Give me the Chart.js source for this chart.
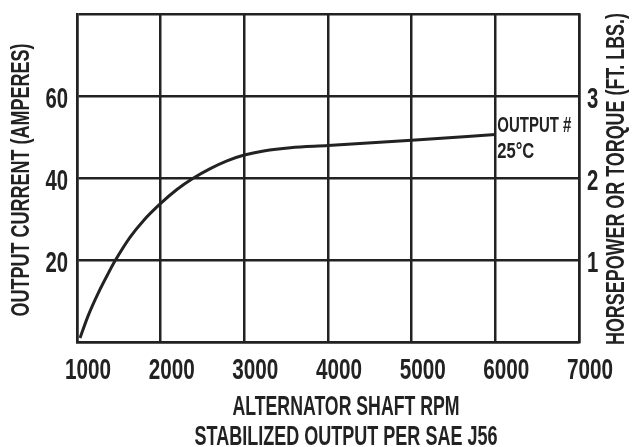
<!DOCTYPE html>
<html>
<head>
<meta charset="utf-8">
<script src="https://cdn.jsdelivr.net/npm/chart.js@4.4.1/dist/chart.umd.min.js"></script>
<style>
  html, body { margin: 0; padding: 0; background: #fff; overflow: hidden; }
  #wrap { position: relative; width: 632px; height: 447px; }
</style>
</head>
<body>
<div id="wrap"><canvas id="chart"></canvas></div>
<script>
// Courbe de sortie de l'alternateur
var rpm  = [1036, 1135, 1255, 1375, 1455, 1635, 1794, 2000, 2194, 2393, 2593, 2793, 3000, 3231, 3551, 4000, 5000, 6000];
var amps = [1.0, 6.5, 12.0, 16.8, 19.8, 25.6, 29.6, 33.8, 37.2, 40.0, 42.3, 44.2, 45.6, 46.6, 47.4, 47.9, 49.2, 50.6];

var rpmTicks = [1000, 2000, 3000, 4000, 5000, 6000, 7000];
var ampTicks = [20, 40, 60];
var hpTicks  = [1, 2, 3];

var curveLabel  = ['OUTPUT #', '25°C'];
var leftTitle   = 'OUTPUT CURRENT (AMPERES)';
var rightTitle  = 'HORSEPOWER OR TORQUE (FT. LBS.)';
var bottomTitle = ['ALTERNATOR SHAFT RPM', 'STABILIZED OUTPUT PER SAE J56'];

var ink  = '#222222';
var face = '"Liberation Sans", Arial, sans-serif';

// texte étroit : on écrase horizontalement (pas de police condensée dispo)
function condText(ctx, text, x, y, size, sx, align, rot) {
    ctx.save();
    ctx.font = 'bold ' + size + 'px ' + face;
    ctx.fillStyle = ink;
    ctx.textAlign = align || 'center';
    ctx.textBaseline = 'middle';
    ctx.translate(x, y);
    if (rot) ctx.rotate(rot);
    ctx.scale(sx, 1);
    ctx.fillText(text, 0, 0);
    ctx.restore();
}

// même chose mais ajusté à une largeur donnée
function fitText(ctx, text, x, y, size, width, align, rot) {
    ctx.save();
    ctx.font = 'bold ' + size + 'px ' + face;
    var w = ctx.measureText(text).width;
    ctx.restore();
    condText(ctx, text, x, y, size, width / w, align, rot);
}

var labelsPlugin = {
    id: 'labelsPlugin',
    afterDraw: function (chart) {
        var ctx = chart.ctx;
        var xs = chart.scales.x, ys = chart.scales.y, ys2 = chart.scales.y2;

        rpmTicks.forEach(function (v) {
            condText(ctx, String(v), xs.getPixelForValue(v) + 11, 371, 30, 0.69, 'center');
        });
        ampTicks.forEach(function (v) {
            condText(ctx, String(v), 68, ys.getPixelForValue(v) + 4, 29, 0.7, 'right');
        });
        hpTicks.forEach(function (v) {
            condText(ctx, String(v), 587, ys2.getPixelForValue(v) + 4, 29, 0.7, 'left');
        });

        fitText(ctx, leftTitle, 22, 180, 26, 273, 'center', -Math.PI / 2);
        fitText(ctx, rightTitle, 617, 179, 26, 332, 'center', -Math.PI / 2);
        fitText(ctx, bottomTitle[0], 346, 407, 28, 227, 'center');
        fitText(ctx, bottomTitle[1], 346, 437, 28, 303, 'center');

        var px = xs.getPixelForValue(rpm[rpm.length - 1]) + 2;
        var py = ys.getPixelForValue(amps[amps.length - 1]);
        fitText(ctx, curveLabel[0], px, py - 9, 22, 74, 'left');
        fitText(ctx, curveLabel[1], px, py + 17, 22, 37, 'left');
    }
};

new Chart(document.getElementById('chart'), {
    type: 'line',
    data: {
        datasets: [{
            data: rpm.map(function (r, i) { return { x: r, y: amps[i] }; }),
            borderColor: ink,
            borderWidth: 3,
            pointRadius: 0,
            cubicInterpolationMode: 'monotone',
            fill: false
        }]
    },
    options: {
        responsive: true,
        maintainAspectRatio: false,
        animation: false,
        layout: { padding: { top: 14, left: 0, right: 0, bottom: 0 } },
        plugins: { legend: { display: false }, tooltip: { enabled: false } },
        scales: {
            x: {
                type: 'linear',
                position: 'bottom',
                min: 1000,
                max: 7000,
                afterBuildTicks: function (s) {
                    s.ticks = rpmTicks.map(function (v) { return { value: v }; });
                },
                afterFit: function (s) { s.height = 105; },
                grid: { color: ink, lineWidth: 2.5, drawTicks: false },
                border: { color: ink, width: 2.5 },
                ticks: { display: false }
            },
            y: {
                position: 'left',
                min: 0,
                max: 80,
                afterBuildTicks: function (s) {
                    s.ticks = [0, 20, 40, 60, 80].map(function (v) { return { value: v }; });
                },
                afterFit: function (s) { s.width = 77; },
                grid: { color: ink, lineWidth: 2.5, drawTicks: false },
                border: { color: ink, width: 2.5 },
                ticks: { display: false }
            },
            y2: {
                position: 'right',
                min: 0,
                max: 4,
                afterBuildTicks: function (s) {
                    s.ticks = hpTicks.map(function (v) { return { value: v }; });
                },
                afterFit: function (s) { s.width = 53; },
                grid: { display: false, drawTicks: false },
                border: { color: ink, width: 2.5 },
                ticks: { display: false }
            }
        }
    },
    plugins: [labelsPlugin]
});
</script>
</body>
</html>
